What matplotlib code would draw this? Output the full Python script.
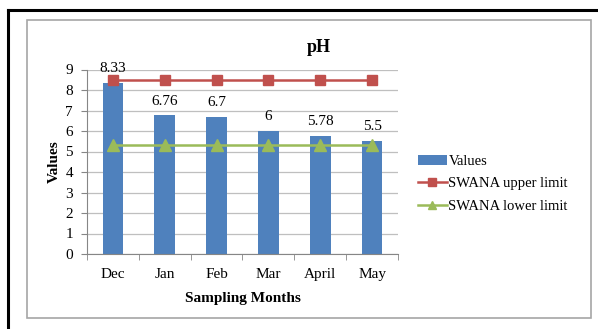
import numpy as np
import matplotlib.pyplot as plt
from matplotlib.patches import Rectangle
from matplotlib.lines import Line2D

plt.rcParams['font.family'] = ['Liberation Serif', 'DejaVu Serif']

# Data
months = ['Dec', 'Jan', 'Feb', 'Mar', 'April', 'May']
values = [8.33, 6.76, 6.7, 6, 5.78, 5.5]
value_labels = ['8.33', '6.76', '6.7', '6', '5.78', '5.5']
upper_limit = [8.5, 8.5, 8.5, 8.5, 8.5, 8.5]
lower_limit = [5.3, 5.3, 5.3, 5.3, 5.3, 5.3]

blue = '#4F81BD'
red = '#C0504D'
green = '#9BBB59'
grid_c = '#BFBFBF'
axis_c = '#868686'

fig = plt.figure(figsize=(5.98, 3.29), dpi=100)

# outer black frame (top and left only are visible)
fig.add_artist(Line2D([7.5 / 598, 1.0], [1 - 9.5 / 329, 1 - 9.5 / 329],
                      transform=fig.transFigure, color='black', lw=2.2))
fig.add_artist(Line2D([7.5 / 598, 7.5 / 598], [0, 1 - 9.5 / 329],
                      transform=fig.transFigure, color='black', lw=2.2))
# gray chart frame
fig.add_artist(Rectangle((27 / 598, 1 - 318 / 329), (591 - 27) / 598, (318 - 20) / 329,
                         transform=fig.transFigure, fill=False,
                         edgecolor='#A6A6A6', lw=1.2))

ax = fig.add_axes([87 / 598, 1 - 254 / 329, (398 - 87) / 598, (254 - 69.5) / 329])

x = np.arange(len(months))
bars = ax.bar(x, values, width=0.4, color=blue, label='Values', zorder=2)
up, = ax.plot(x, upper_limit, color=red, lw=1.8, marker='s', markersize=7,
              label='SWANA upper limit', zorder=3)
low, = ax.plot(x, lower_limit, color=green, lw=1.8, marker='^', markersize=8,
               label='SWANA lower limit', zorder=3)

for xi, v, lab in zip(x, values, value_labels):
    ax.text(xi, v + 0.7, lab, ha='center', va='center', fontsize=11, zorder=4)

ax.set_xlim(-0.5, len(months) - 0.5)
ax.set_ylim(0, 9)
ax.set_yticks(range(0, 10))
ax.yaxis.grid(True, color=grid_c, lw=0.9, zorder=0)
ax.set_axisbelow(True)

ax.set_xticks(x)
ax.set_xticklabels(months, fontsize=11)
ax.set_xticks(np.arange(-0.5, len(months)), minor=True)
ax.tick_params(axis='x', which='major', length=0, pad=10)
ax.tick_params(axis='x', which='minor', length=4, color=axis_c)
ax.tick_params(axis='y', length=4, color=axis_c, labelsize=11, pad=6)

for s in ['top', 'right']:
    ax.spines[s].set_visible(False)
ax.spines['left'].set_color(axis_c)
ax.spines['bottom'].set_color(axis_c)

ax.set_title('pH', fontsize=13, fontweight='bold', x=0.745, y=1.05)
ax.set_xlabel('Sampling Months', fontsize=11, fontweight='bold', labelpad=8)
ax.set_ylabel('Values', fontsize=11, fontweight='bold', labelpad=3)

leg = ax.legend([bars, up, low], ['Values', 'SWANA upper limit', 'SWANA lower limit'],
                loc='center left', bbox_to_anchor=(1.045, 0.38), frameon=False,
                fontsize=10.5, handlelength=2.0, handletextpad=0.1, labelspacing=0.65,
                borderaxespad=0, markerscale=0.8)

fig.savefig('out.png', dpi=100)
